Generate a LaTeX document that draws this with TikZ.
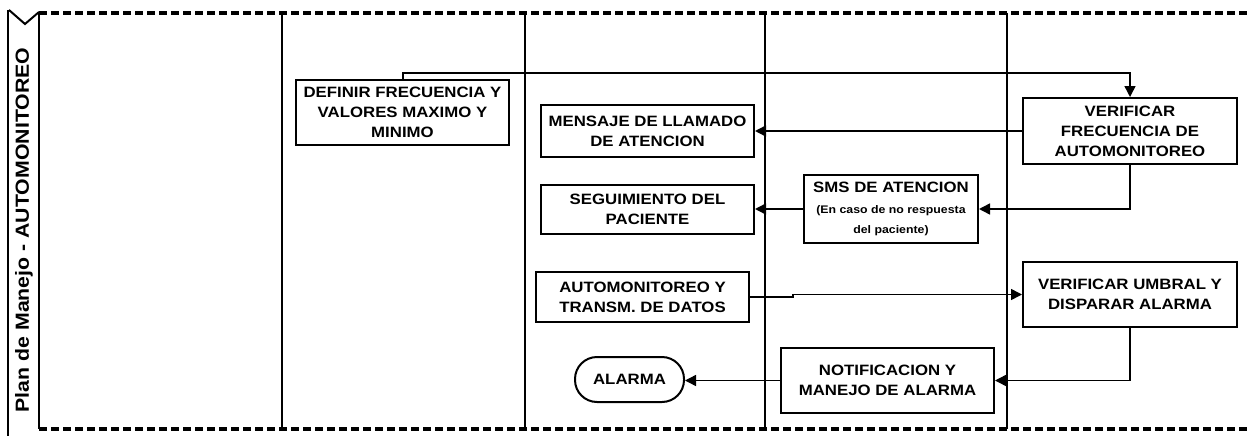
\documentclass[tikz,border=0pt]{standalone}
\usepackage{fontspec}
\newfontfamily\lab[FakeStretch=1.12]{Liberation Sans}
\usetikzlibrary{arrows.meta}
\tikzset{
  box/.style={draw, line width=2pt, inner sep=0pt, align=center, font=\lab\bfseries\fontsize{15}{20}\selectfont},
  conn/.style={line width=1.5pt},
  arr/.style={conn, -{Triangle[length=11pt,width=11pt]}},
  lane/.style={line width=2pt},
  border/.style={line width=3.4pt, dash pattern=on 8pt off 4pt}
}
\begin{document}
\begin{tikzpicture}[x=1pt,y=-1pt]
\useasboundingbox (0,0) rectangle (1249,436);
% pool frame
\draw[border] (39,13) -- (1249,13);
\draw[border] (39,429) -- (1249,429);
\draw[lane] (8,10) -- (8,436);
\draw[lane] (39,12) -- (39,429);
\draw[lane] (9,10) -- (25,24) -- (39,12);
\foreach \x in {282,525,765,1007} \draw[lane] (\x,13) -- (\x,429);
\node[rotate=90, font=\lab\bfseries\fontsize{19}{20}\selectfont] (title) at (24,230) {Plan de Manejo - AUTOMONITOREO};
% nodes
\node[box, minimum width=213pt, minimum height=65pt] (defn) at (402.5,112.5) {DEFINIR FRECUENCIA Y\\VALORES MAXIMO Y\\MINIMO};
\node[box, minimum width=213pt, minimum height=52pt] (mens) at (647.5,131) {MENSAJE DE LLAMADO\\DE ATENCION};
\node[box, minimum width=213pt, minimum height=49pt] (segu) at (647.5,209.5) {SEGUIMIENTO DEL\\PACIENTE};
\node[box, minimum width=174pt, minimum height=68pt] (sms) at (891,209) {SMS DE ATENCION\\[1pt]{\fontsize{11}{21}\selectfont(En caso de no respuesta}\\{\fontsize{11}{21}\selectfont del paciente)}};
\node[box, minimum width=214pt, minimum height=66pt] (verf) at (1130,131) {VERIFICAR\\FRECUENCIA DE\\AUTOMONITOREO};
\node[box, minimum width=213pt, minimum height=50pt] (auto) at (642.5,297) {AUTOMONITOREO Y\\TRANSM. DE DATOS};
\node[box, minimum width=214pt, minimum height=65pt] (umbr) at (1130,294.5) {VERIFICAR UMBRAL Y\\DISPARAR ALARMA};
\node[box, minimum width=213pt, minimum height=65pt] (noti) at (887.5,380.5) {NOTIFICACION Y\\MANEJO DE ALARMA};
\node[box, minimum width=109pt, minimum height=45pt, rounded corners=22pt] (alar) at (629.5,379.5) {ALARMA};
% connectors
\coordinate (c1) at (403,73);
\coordinate (c2) at (1130,73);
\draw[arr] (defn.north -| c1) -- (c1) -- (c2) -- (verf.north);
\draw[arr] (verf.west) -- (mens.east);
\draw[arr] (verf.south) |- (sms.east);
\draw[arr] (sms.west) -- (segu.east |- sms.west);
\coordinate (j1) at (793,297);
\coordinate (j2) at (793,294.5);
\draw[arr] (auto.east) -- (j1) -- (j2) -- (umbr.west);
\draw[arr] (umbr.south) |- (noti.east);
\draw[arr] (noti.west) -- (alar.east |- noti.west);
\end{tikzpicture}
\end{document}
